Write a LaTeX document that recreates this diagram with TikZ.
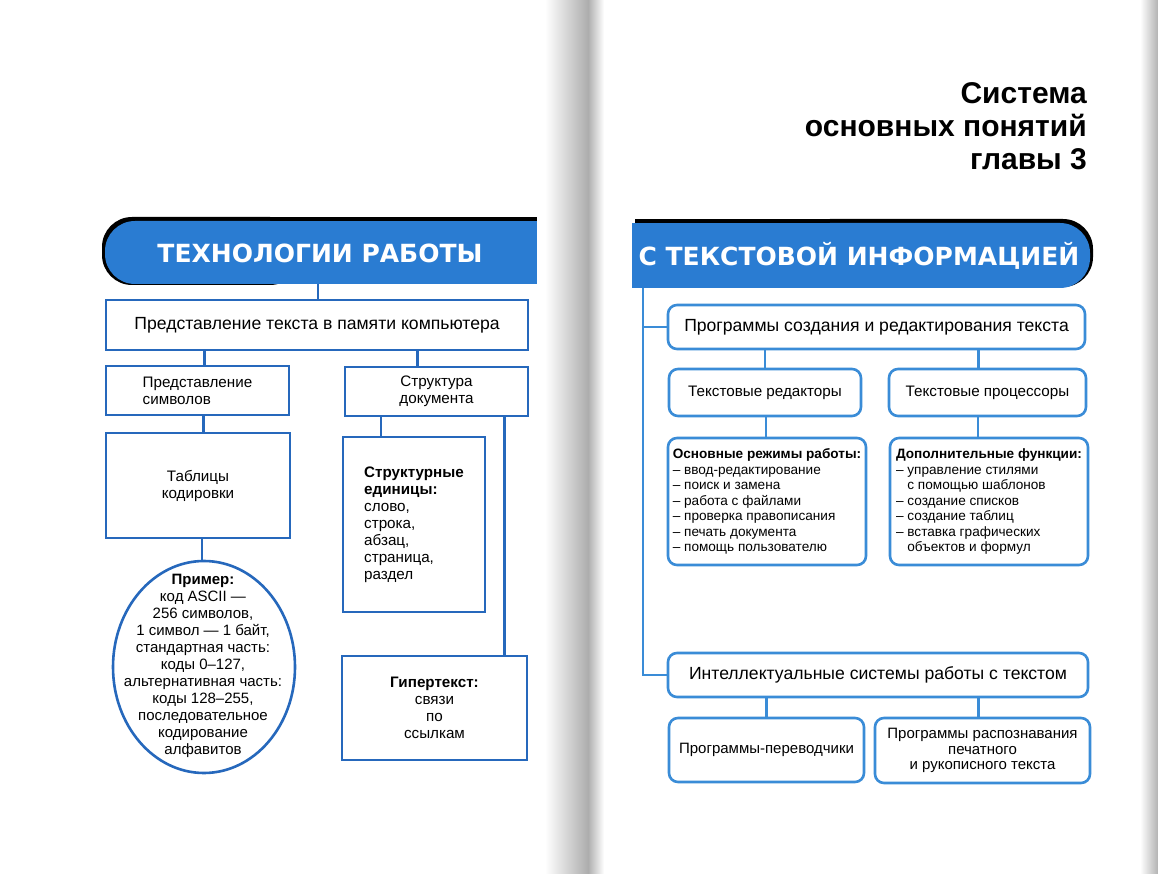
\documentclass[tikz,border=0pt]{standalone}
\usepackage{fontspec}
\setmainfont{Liberation Sans}
\newfontfamily\bannerfont{DejaVu Sans}
\usetikzlibrary{shapes.geometric}
\definecolor{lblue}{RGB}{38,104,188}
\definecolor{rblue}{RGB}{58,140,215}
\definecolor{banblue}{RGB}{42,124,210}
\begin{document}
\begin{tikzpicture}[x=1pt,y=-1pt,
  lbox/.style={draw=lblue,line width=2.6pt,fill=white,inner sep=2pt,align=center},
  rbox/.style={draw=rblue,line width=2.6pt,fill=white,rounded corners=9pt,inner sep=2pt,align=center},
  lconn/.style={draw=lblue,line width=2.4pt},
  rconn/.style={draw=rblue,line width=2.4pt},
  fA/.style={font=\fontsize{17.6}{20}\selectfont},
  fB/.style={font=\fontsize{15.2}{17}\selectfont},
  fC/.style={font=\fontsize{15}{17}\selectfont},
  fD/.style={font=\fontsize{13.6}{15.5}\selectfont},
  fE/.style={font=\fontsize{15.2}{17}\selectfont},
  bantext/.style={text=white,font=\bannerfont\bfseries\fontsize{25}{30}\selectfont}
]
\useasboundingbox (0,0) rectangle (1158,874);
\fill[white] (0,0) rectangle (1158,874);
% spine shading
\shade[left color=white,right color=black!32] (545,0) rectangle (588,874);
\shade[left color=black!32,right color=white] (588,0) rectangle (604,874);
\shade[left color=white,right color=black!30] (1140,0) rectangle (1158,874);

% left banner
\fill[black,rounded corners=30pt] (102,217) rectangle (300,285);
\fill[black] (200,217) rectangle (537,280);
\fill[banblue,rounded corners=30pt] (105,221) rectangle (300,284);
\fill[banblue] (200,221) rectangle (537,284);
\node[bantext] (banL) at (320,253) {ТЕХНОЛОГИИ РАБОТЫ};
\coordinate (banLc) at (318,284);

% right banner
\fill[black,rounded corners=30pt] (800,219) rectangle (1093,287);
\fill[black] (635,219) rectangle (900,284);
\fill[banblue,rounded corners=30pt] (800,223) rectangle (1090,288);
\fill[banblue] (632,223) rectangle (900,288);
\node[bantext] (banR) at (859,256) {С ТЕКСТОВОЙ ИНФОРМАЦИЕЙ};
\coordinate (banRc) at (643,288);

% title
\node[anchor=north east,align=right,inner sep=0pt,font=\bfseries\fontsize{30}{33}\selectfont] (title) at (1087,82)
  {Система\\основных понятий\\главы 3};

% left nodes
\node[lbox,fA,minimum width=422pt,minimum height=50pt] (b1) at (317,325) {Представление текста в памяти компьютера};
\node[lbox,fB,minimum width=183pt,minimum height=49pt,align=left] (sym) at (197.5,390.5) {Представление\\символов};
\node[lbox,fB,minimum width=183pt,minimum height=49pt] (struct) at (436.5,391.5) {Структура\\документа};
\node[lbox,fB,minimum width=184pt,minimum height=105pt] (tab) at (198,485.5) {Таблицы\\кодировки};
\node[lbox,ellipse,inner sep=0pt,minimum width=182pt,minimum height=212pt] (ell) at (204,667) {};
\node[fC,align=center,inner sep=0pt] (elltext) at (203,666)
  {\textbf{Пример:}\\код ASCII —\\256 символов,\\1 символ — 1 байт,\\стандартная часть:\\коды 0–127,\\альтернативная часть:\\коды 128–255,\\последовательное\\кодирование\\алфавитов};
\node[lbox,fE,minimum width=142pt,minimum height=175pt,align=left] (units) at (414,524.5)
  {\textbf{Структурные}\\\textbf{единицы:}\\слово,\\строка,\\абзац,\\страница,\\раздел};
\node[lbox,fE,minimum width=185pt,minimum height=104pt] (hyper) at (434.5,708)
  {\textbf{Гипертекст:}\\связи\\по\\ссылкам};

% right nodes
\node[rbox,fA,minimum width=417pt,minimum height=44pt] (prog) at (876.5,327) {Программы создания и редактирования текста};
\node[rbox,fB,minimum width=192pt,minimum height=47pt] (red) at (765,392.5) {Текстовые редакторы};
\node[rbox,fB,minimum width=197pt,minimum height=47pt] (proc) at (987.5,392.5) {Текстовые процессоры};
\node[rbox,fD,minimum width=198pt,minimum height=127pt,align=left,inner sep=1pt] (modes) at (767,501.5)
  {\textbf{Основные режимы работы:}\\– ввод-редактирование\\– поиск и замена\\– работа с файлами\\– проверка правописания\\– печать документа\\– помощь пользователю};
\node[rbox,fD,minimum width=198pt,minimum height=127pt,align=left,inner sep=1pt] (func) at (989,501.5)
  {\textbf{Дополнительные функции:}\\– управление стилями\\\phantom{– }с помощью шаблонов\\– создание списков\\– создание таблиц\\– вставка графических\\\phantom{– }объектов и формул};
\node[rbox,fA,minimum width=420pt,minimum height=44pt] (intel) at (878,675) {Интеллектуальные системы работы с текстом};
\node[rbox,font=\fontsize{15}{15.5}\selectfont,minimum width=195pt,minimum height=64pt] (transl) at (766.5,750) {Программы-переводчики};
\node[rbox,font=\fontsize{15}{15.5}\selectfont,minimum width=215pt,minimum height=65pt] (recog) at (982.5,750.5) {Программы распознавания\\печатного\\и рукописного текста};

% left connectors
\draw[lconn] (banLc) -- (banLc |- b1.north);
\draw[lconn] ([xshift=7pt]sym.north) -- ([xshift=7pt]sym.north |- b1.south);
\draw[lconn] ([xshift=-19pt]struct.north) -- ([xshift=-19pt]struct.north |- b1.south);
\draw[lconn] ([xshift=6pt]sym.south) -- ([xshift=6pt]sym.south |- tab.north);
\draw[lconn] ([xshift=4pt]tab.south) -- ([xshift=4pt]tab.south |- ell.north);
\draw[lconn] ([xshift=-33pt]units.north) -- ([xshift=-33pt]units.north |- struct.south);
\draw[lconn] ([xshift=70pt]hyper.north) -- ([xshift=70pt]hyper.north |- struct.south);

% right connectors
\draw[rconn] (banRc) |- (intel.west);
\draw[rconn] (prog.west) -- (prog.west -| banRc);
\draw[rconn] (red.north) -- (red.north |- prog.south);
\draw[rconn] ([xshift=-9pt]proc.north) -- ([xshift=-9pt]proc.north |- prog.south);
\draw[rconn] ([xshift=-1pt]modes.north) -- ([xshift=-1pt]modes.north |- red.south);
\draw[rconn] ([xshift=-11pt]func.north) -- ([xshift=-11pt]func.north |- proc.south);
\draw[rconn] (transl.north) -- (transl.north |- intel.south);
\draw[rconn] ([xshift=-4pt]recog.north) -- ([xshift=-4pt]recog.north |- intel.south);
\end{tikzpicture}
\end{document}
